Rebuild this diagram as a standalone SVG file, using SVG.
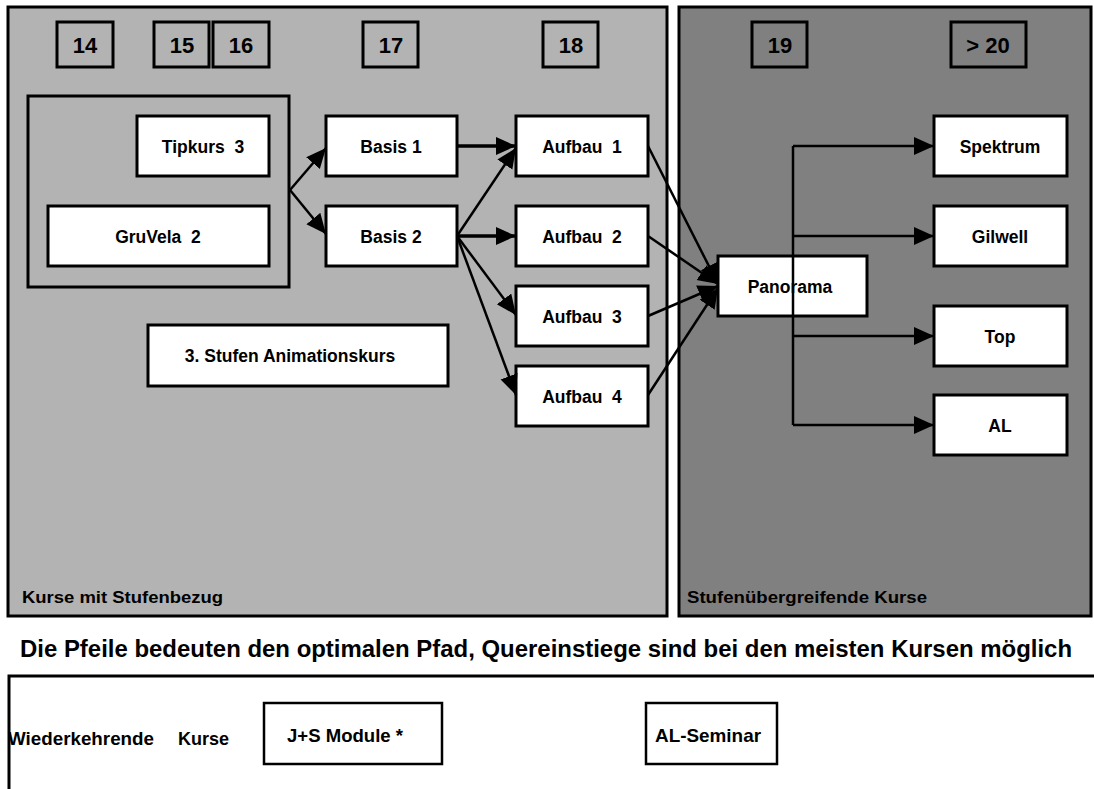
<svg xmlns="http://www.w3.org/2000/svg" width="1094" height="789" viewBox="0 0 1094 789">
<style>
text{font-family:"Liberation Sans",Arial,sans-serif;font-weight:bold;fill:#000;white-space:pre}
.panel{stroke:#000;stroke-width:3}
.yr{fill:none;stroke:#000;stroke-width:3}
.yt{font-size:22px;text-anchor:middle}
.node{fill:#fff;stroke:#000;stroke-width:3}
.nt{font-size:17.5px;text-anchor:middle}
.bt{font-size:19px}
.c{stroke:#000;stroke-width:2.5;fill:none}
.ct{stroke:#000;stroke-width:3.5;fill:none}
</style>
<defs>
<marker id="ah" markerUnits="userSpaceOnUse" markerWidth="22" markerHeight="20" refX="20" refY="9" orient="auto">
<path d="M0,0 L20,9 L0,18 Z" fill="#000"/>
</marker>
</defs>
<rect width="1094" height="789" fill="#fff"/>
<g id="panel-left">
<rect class="panel" x="8" y="7" width="659" height="609" fill="#b3b3b3"/>
<text x="22" y="603" style="font-size:17px" textLength="201" lengthAdjust="spacingAndGlyphs">Kurse mit Stufenbezug</text>
</g>
<g id="panel-right">
<rect class="panel" x="679" y="7" width="412" height="609" fill="#808080"/>
<text x="687" y="603" style="font-size:17px" textLength="240" lengthAdjust="spacingAndGlyphs">Stufenübergreifende Kurse</text>
</g>
<g id="y14"><rect class="yr" x="57" y="22" width="56" height="45"/><text class="yt" x="85" y="53">14</text></g>
<g id="y15"><rect class="yr" x="154" y="22" width="55" height="45"/><text class="yt" x="182" y="53">15</text></g>
<g id="y16"><rect class="yr" x="213" y="22" width="56" height="45"/><text class="yt" x="241" y="53">16</text></g>
<g id="y17"><rect class="yr" x="363" y="22" width="55" height="45"/><text class="yt" x="391" y="53">17</text></g>
<g id="y18"><rect class="yr" x="543" y="22" width="55" height="45"/><text class="yt" x="571" y="53">18</text></g>
<g id="y19"><rect class="yr" x="752" y="22" width="55" height="45"/><text class="yt" x="780" y="53">19</text></g>
<g id="y20"><rect class="yr" x="951" y="22" width="75" height="45"/><text class="yt" x="988" y="53">&gt; 20</text></g>
<g id="group"><rect class="yr" x="28" y="96" width="261" height="191"/></g>
<g id="tipkurs"><rect class="node" x="137" y="116" width="132" height="60"/><text class="nt" x="203" y="153">Tipkurs  3</text></g>
<g id="gruvela"><rect class="node" x="48" y="206" width="221" height="60"/><text class="nt" x="158" y="243">GruVela  2</text></g>
<g id="basis1"><rect class="node" x="326" y="116" width="131" height="60"/><text class="nt" x="391" y="153">Basis 1</text></g>
<g id="basis2"><rect class="node" x="326" y="206" width="131" height="60"/><text class="nt" x="391" y="243">Basis 2</text></g>
<g id="aufbau1"><rect class="node" x="516" y="116" width="132" height="60"/><text class="nt" x="582" y="153">Aufbau  1</text></g>
<g id="aufbau2"><rect class="node" x="516" y="206" width="132" height="60"/><text class="nt" x="582" y="243">Aufbau  2</text></g>
<g id="aufbau3"><rect class="node" x="516" y="286" width="132" height="60"/><text class="nt" x="582" y="323">Aufbau  3</text></g>
<g id="aufbau4"><rect class="node" x="516" y="366" width="132" height="60"/><text class="nt" x="582" y="403">Aufbau  4</text></g>
<g id="animation"><rect class="node" x="148" y="325" width="300" height="61"/><text class="nt" x="290" y="362">3. Stufen Animationskurs</text></g>
<g id="panorama"><rect class="node" x="718" y="256" width="149" height="60"/><text class="nt" x="790" y="293">Panorama</text></g>
<g id="spektrum"><rect class="node" x="934" y="116" width="133" height="60"/><text class="nt" x="1000" y="153">Spektrum</text></g>
<g id="gilwell"><rect class="node" x="934" y="206" width="133" height="60"/><text class="nt" x="1000" y="243">Gilwell</text></g>
<g id="top"><rect class="node" x="934" y="306" width="133" height="60"/><text class="nt" x="1000" y="343">Top</text></g>
<g id="al"><rect class="node" x="934" y="395" width="133" height="60"/><text class="nt" x="1000" y="432">AL</text></g>
<g id="connectors">
<path class="c" d="M290,190 L326,148" marker-end="url(#ah)"/>
<path class="c" d="M290,190 L326,234" marker-end="url(#ah)"/>
<path class="ct" d="M457,146 L516,146" marker-end="url(#ah)"/>
<path class="c" d="M457,236 L516,148" marker-end="url(#ah)"/>
<path class="ct" d="M457,236 L516,236" marker-end="url(#ah)"/>
<path class="c" d="M457,236 L516,315" marker-end="url(#ah)"/>
<path class="c" d="M457,236 L516,395" marker-end="url(#ah)"/>
<path class="c" d="M648,146 L718,284" marker-end="url(#ah)"/>
<path class="c" d="M648,236 L718,284" marker-end="url(#ah)"/>
<path class="c" d="M648,316 L718,286" marker-end="url(#ah)"/>
<path class="c" d="M648,395 L718,288" marker-end="url(#ah)"/>
<path class="c" d="M793,146 L793,425"/>
<path class="c" d="M793,146 L934,146" marker-end="url(#ah)"/>
<path class="c" d="M793,236 L934,236" marker-end="url(#ah)"/>
<path class="c" d="M793,336 L934,336" marker-end="url(#ah)"/>
<path class="c" d="M793,425 L934,425" marker-end="url(#ah)"/>
</g>
<text x="20" y="657" style="font-size:23px" textLength="1052" lengthAdjust="spacingAndGlyphs">Die Pfeile bedeuten den optimalen Pfad, Quereinstiege sind bei den meisten Kursen möglich</text>
<g id="recurring">
<path d="M9,789 L9,676 L1094,676" fill="none" stroke="#000" stroke-width="3"/>
<text class="bt" x="8" y="745" textLength="146" lengthAdjust="spacingAndGlyphs">Wiederkehrende</text>
<text class="bt" x="178" y="745" textLength="51" lengthAdjust="spacingAndGlyphs">Kurse</text>
</g>
<g id="jsmodule"><rect x="264" y="703" width="178" height="61" fill="#fff" stroke="#000" stroke-width="2.5"/><text class="bt" x="287" y="742" textLength="116" lengthAdjust="spacingAndGlyphs">J+S Module *</text></g>
<g id="alseminar"><rect x="646" y="703" width="131" height="61" fill="#fff" stroke="#000" stroke-width="2.5"/><text class="bt" x="655" y="742" textLength="106" lengthAdjust="spacingAndGlyphs">AL-Seminar</text></g>
</svg>
